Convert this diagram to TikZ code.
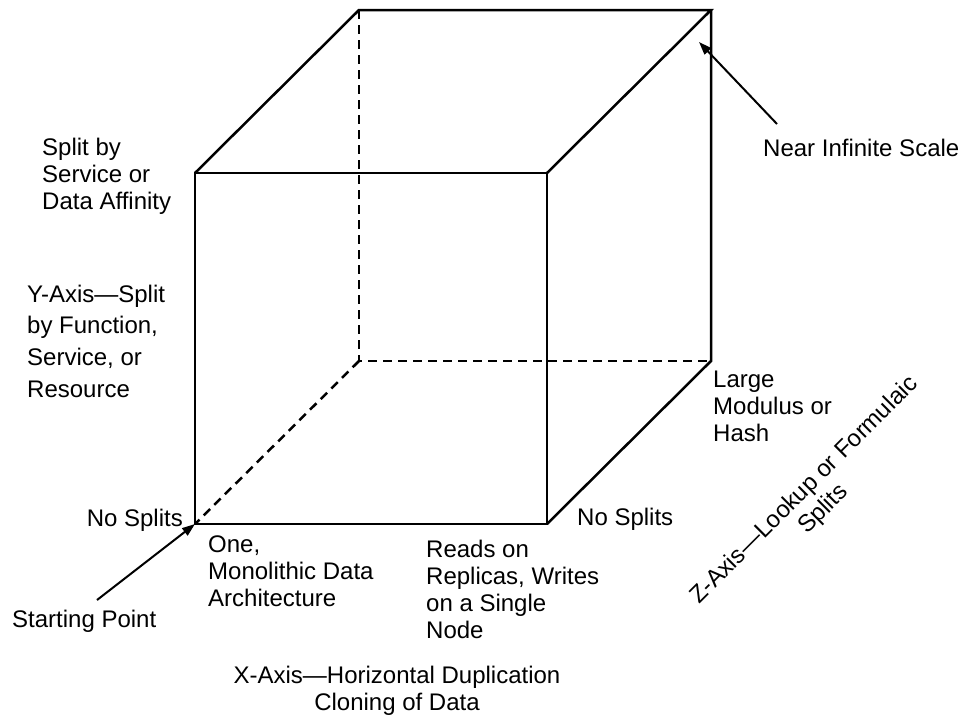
\documentclass[tikz,border=0pt]{standalone}
\usepackage{fontspec}
\setmainfont{Liberation Sans}
\usetikzlibrary{arrows.meta}
\tikzset{
  edge/.style={line width=2.5pt, line join=miter},
  hidden/.style={line width=2.5pt, dash pattern=on 9pt off 6pt},
  lab/.style={inner sep=0pt, font=\fontsize{24}{27}\selectfont},
  labwide/.style={inner sep=0pt, font=\fontsize{24}{31.7}\selectfont},
  ptr/.style={line width=2pt, -{Triangle[length=13pt,width=9pt]}}
}
\begin{document}
\begin{tikzpicture}[x=1pt,y=-1pt]
\useasboundingbox (0,0) rectangle (960,715);
% cube corners
\coordinate (F1) at (195,173);
\coordinate (F2) at (547,173);
\coordinate (F3) at (547,524);
\coordinate (F4) at (195,524);
\coordinate (B1) at (359,10);
\coordinate (B2) at (711,10);
\coordinate (B3) at (711,361);
\coordinate (B4) at (359,361);
% visible edges
\draw[edge] (F1) -- (F2) -- (F3) -- (F4) -- cycle;
\draw[edge] (F1) -- (B1) -- (B2) -- (F2);
\draw[edge] (B2) -- (B3) -- (F3);
% hidden edges
\draw[hidden] (B1) -- (B4) -- (B3);
\draw[hidden] (B4) -- (F4);
% labels
\node[lab, anchor=base west] (split) at (42,155)
  {\begin{tabular}[t]{@{}l@{}}Split by\\Service or\\Data Affinity\end{tabular}};
\node[labwide, anchor=base west] (yaxis) at (27,302)
  {\begin{tabular}[t]{@{}l@{}}Y-Axis—Split\\by Function,\\Service, or\\Resource\end{tabular}};
\node[lab, anchor=base east] (nosplitL) at (183,526) {No Splits};
\node[lab, anchor=base west] (one) at (208,552)
  {\begin{tabular}[t]{@{}l@{}}One,\\Monolithic Data\\Architecture\end{tabular}};
\node[lab, anchor=base west] (reads) at (426,557)
  {\begin{tabular}[t]{@{}l@{}}Reads on\\Replicas, Writes\\on a Single\\Node\end{tabular}};
\node[lab, anchor=base west] (nosplitR) at (577,525) {No Splits};
\node[lab, anchor=base west] (large) at (713,387)
  {\begin{tabular}[t]{@{}l@{}}Large\\Modulus or\\Hash\end{tabular}};
\node[lab, anchor=base west] (near) at (763,156) {Near Infinite Scale};
\node[lab, anchor=base west] (start) at (12,627) {Starting Point};
\node[lab, anchor=base] (xaxis) at (397,683)
  {\begin{tabular}[t]{@{}c@{}}X-Axis—Horizontal Duplication\\Cloning of Data\end{tabular}};
\node[lab, anchor=base, rotate=45] (zaxis) at (809,495)
  {\begin{tabular}[t]{@{}c@{}}Z-Axis—Lookup or Formulaic\\Splits\end{tabular}};
% pointers
\coordinate (nisTail) at (777,124);
\coordinate (nisTip) at (699,42);
\draw[ptr] (nisTail) -- (nisTip);
\coordinate (spTail) at (97,600);
\draw[ptr] (spTail) -- (F4);
\end{tikzpicture}
\end{document}
